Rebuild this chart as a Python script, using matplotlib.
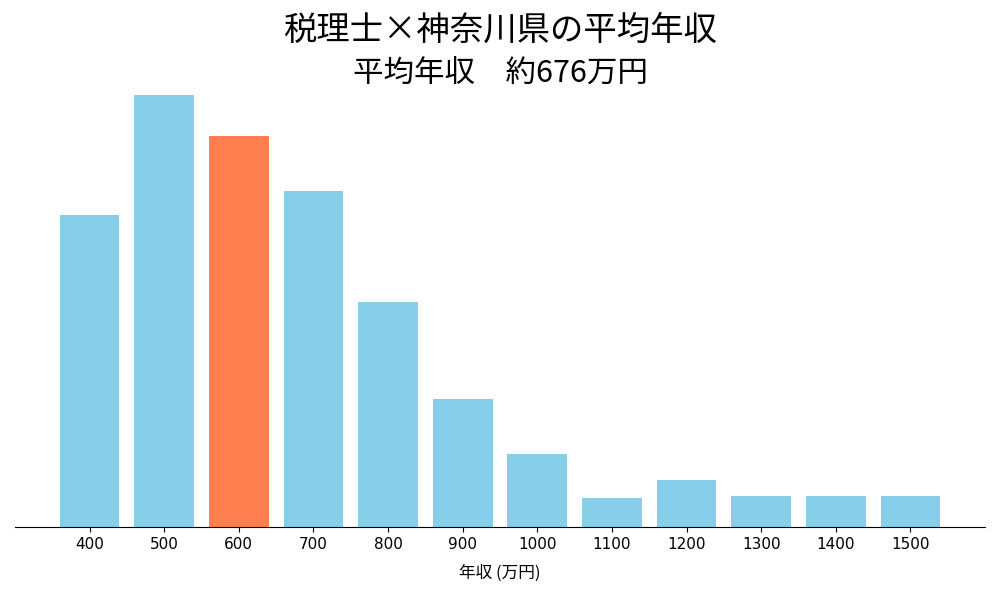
import matplotlib
matplotlib.use("Agg")
import matplotlib.pyplot as plt

plt.rcParams['font.family'] = ['Noto Sans CJK JP', 'DejaVu Sans']

incomes = ["400", "500", "600", "700", "800", "900", "1000", "1100", "1200", "1300", "1400", "1500"]
counts = [312, 432, 391, 336, 225, 128, 73, 29, 47, 31, 31, 31]
highlight = "600"

colors = ["#FF7F50" if x == highlight else "#87CEEB" for x in incomes]

fig = plt.figure(figsize=(10, 6), dpi=100)
ax = fig.add_axes([0.015, 0.1217, 0.97, 0.72])
ax.bar(range(len(incomes)), counts, width=0.8, color=colors)
ax.set_xticks(range(len(incomes)))
ax.set_xticklabels(incomes, fontsize=11, family="DejaVu Sans")
ax.set_xlim(-1, len(incomes))
ax.set_ylim(0, max(counts))
ax.set_yticks([])
for s in ["top", "right", "left"]:
    ax.spines[s].set_visible(False)
ax.set_xlabel("年収 (万円)", fontsize=12, labelpad=9)

fig.text(0.5, 0.95, "税理士×神奈川県の平均年収", ha="center", va="center", fontsize=24)
fig.text(0.5, 0.877, "平均年収　約676万円", ha="center", va="center", fontsize=22)

fig.savefig("out.png", dpi=100)
